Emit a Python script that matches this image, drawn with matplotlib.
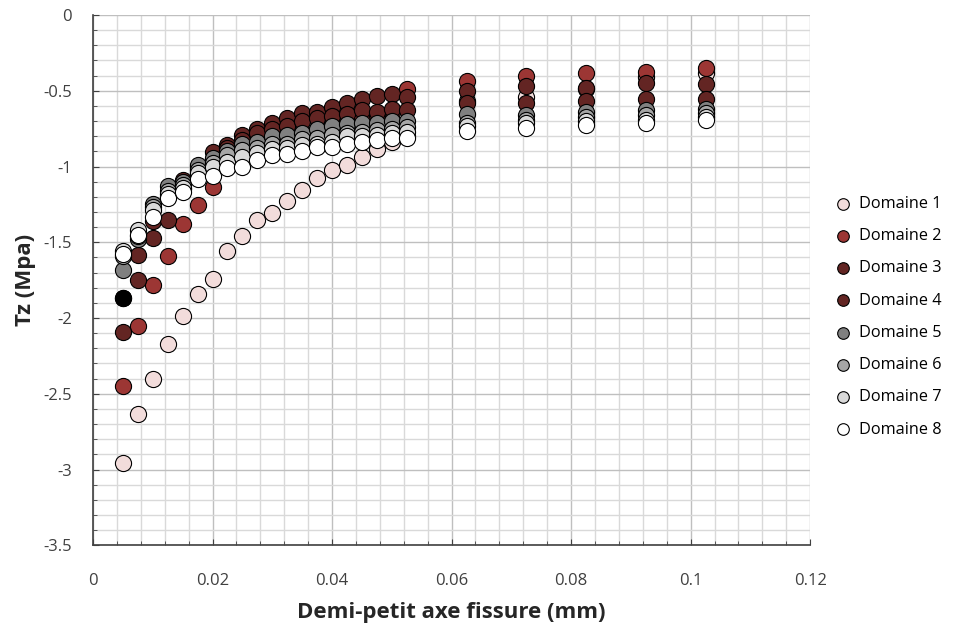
import numpy as np
import matplotlib
matplotlib.use('Agg')
import matplotlib.pyplot as plt
from matplotlib.ticker import MultipleLocator

plt.rcParams['font.family'] = ['Open Sans', 'DejaVu Sans']

# demi-petit axe (mm)
x = [0.005, 0.0075, 0.01, 0.0125, 0.015, 0.0175, 0.02, 0.0225, 0.025, 0.0275,
     0.03, 0.0325, 0.035, 0.0375, 0.04, 0.0425, 0.045, 0.0475, 0.05, 0.0525,
     0.0625, 0.0725, 0.0825, 0.0925, 0.1025]

d1 = [-2.96, -2.635, -2.40, -2.17, -1.99, -1.84, -1.745, -1.56, -1.46, -1.35,
      -1.306, -1.23, -1.155, -1.077, -1.026, -0.99, -0.94, -0.885, -0.84, -0.80,
      -0.57, -0.54, -0.49, -0.41, -0.385]
d2 = [-2.45, -2.05, -1.785, -1.59, -1.38, -1.255, -1.134, -0.99, -0.94, -0.90,
      -0.86, -0.82, -0.78, -0.75, -0.72, -0.70, -0.68, -0.66, -0.64, -0.49,
      -0.434, -0.40, -0.38, -0.375, -0.35]
d3 = [-1.87, -1.585, -1.36, -1.2, -1.09, -1.0, -0.903, -0.86, -0.79, -0.75,
      -0.715, -0.68, -0.645, -0.64, -0.61, -0.58, -0.555, -0.535, -0.52, -0.54,
      -0.50, -0.47, -0.48, -0.45, -0.455]
d4 = [-2.09, -1.75, -1.47, -1.35, -1.15, -1.06, -0.95, -0.88, -0.825, -0.78,
      -0.755, -0.73, -0.70, -0.68, -0.667, -0.654, -0.627, -0.64, -0.62, -0.63,
      -0.58, -0.58, -0.57, -0.555, -0.555]
d5 = [-1.68, -1.48, -1.25, -1.13, -1.10, -0.99, -0.945, -0.90, -0.85, -0.84,
      -0.80, -0.79, -0.78, -0.75, -0.73, -0.72, -0.715, -0.71, -0.70, -0.70,
      -0.654, -0.66, -0.64, -0.627, -0.62]
d6 = [-1.59, -1.46, -1.27, -1.16, -1.12, -1.02, -0.975, -0.925, -0.89, -0.88,
      -0.85, -0.85, -0.82, -0.81, -0.79, -0.78, -0.77, -0.76, -0.75, -0.74,
      -0.71, -0.69, -0.67, -0.66, -0.645]
d7 = [-1.555, -1.42, -1.29, -1.18, -1.14, -1.045, -1.0, -0.97, -0.94, -0.91,
      -0.885, -0.88, -0.86, -0.85, -0.84, -0.80, -0.80, -0.79, -0.78, -0.77,
      -0.73, -0.71, -0.70, -0.69, -0.67]
d8 = [-1.575, -1.45, -1.33, -1.21, -1.17, -1.08, -1.065, -1.01, -1.0, -0.96,
      -0.925, -0.92, -0.90, -0.87, -0.87, -0.85, -0.84, -0.826, -0.81, -0.81,
      -0.764, -0.747, -0.727, -0.715, -0.693]

series = [d1, d2, d3, d4, d5, d6, d7, d8]
labels = ['Domaine %d' % i for i in range(1, 9)]
colors = ['#F2DCDB', '#9C3634', '#632523', '#632523',
          '#808080', '#A6A6A6', '#D9D9D9', '#FFFFFF']

xticks = [0, 0.02, 0.04, 0.06, 0.08, 0.1, 0.12]
xticklabels = ['0', '0.02', '0.04', '0.06', '0.08', '0.1', '0.12']
yticks = [0, -0.5, -1, -1.5, -2, -2.5, -3, -3.5]
yticklabels = ['0', '-0.5', '-1', '-1.5', '-2', '-2.5', '-3', '-3.5']

fig = plt.figure(figsize=(9.61, 6.26), dpi=100)
ax = fig.add_axes([0.0968, 0.129, 0.7462, 0.847])

for ys, lab, c in zip(series, labels, colors):
    ax.scatter(x, ys, s=135, c=c, edgecolors='black', linewidths=0.8,
               label=lab, zorder=3)
# first point of domaine 3 is drawn in black in the original
ax.scatter([x[0]], [d3[0]], s=135, c='black', edgecolors='black',
           linewidths=0.8, zorder=3)

ax.set_xlim(0, 0.12)
ax.set_ylim(-3.5, 0)
ax.set_xticks(xticks)
ax.set_xticklabels(xticklabels)
ax.set_yticks(yticks)
ax.set_yticklabels(yticklabels)
ax.xaxis.set_minor_locator(MultipleLocator(0.004))
ax.yaxis.set_minor_locator(MultipleLocator(0.1))

ax.grid(which='minor', color='#D9D9D9', lw=1)
ax.grid(which='major', color='#BFBFBF', lw=1)
ax.set_axisbelow(True)
for s in ['top', 'right']:
    ax.spines[s].set_visible(False)
for s in ['left', 'bottom']:
    ax.spines[s].set_color('#404040')
    ax.spines[s].set_linewidth(1.2)
ax.tick_params(which='both', direction='in', colors='#404040', labelcolor='#404040',
               labelsize=12)
ax.tick_params(which='major', length=4)
ax.tick_params(which='minor', length=3)
ax.tick_params(axis='x', pad=20)
ax.tick_params(axis='y', pad=15)

ax.set_xlabel('Demi-petit axe fissure (mm)', fontsize=16, fontweight='bold',
              color='#262626', labelpad=9)
ax.set_ylabel('Tz (Mpa)', fontsize=16, fontweight='bold', color='#262626',
              labelpad=5)

fig.legend(loc='center left', bbox_to_anchor=(0.862, 0.494), frameon=False,
           fontsize=11.7, labelspacing=1.0, handletextpad=0.5, markerscale=0.72,
           handlelength=1.0, borderaxespad=0)

fig.savefig('out.png', dpi=100)
